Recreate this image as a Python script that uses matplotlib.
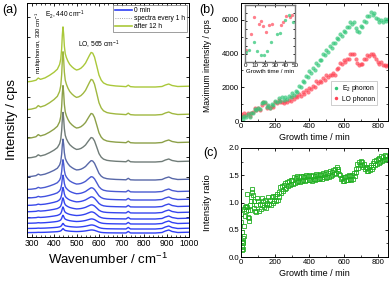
import numpy as np
import matplotlib
matplotlib.use("Agg")
import matplotlib.pyplot as plt
from matplotlib.lines import Line2D
from matplotlib.ticker import MultipleLocator, NullFormatter, FormatStrFormatter

plt.rcParams['font.family'] = ['Liberation Sans', 'DejaVu Sans']
plt.rcParams['mathtext.fontset'] = 'custom'
plt.rcParams['mathtext.rm'] = 'Liberation Sans'
plt.rcParams['mathtext.it'] = 'Liberation Sans:italic'

# ---------------- panel (a) data ----------------
wavenumber = [280, 300, 320, 330, 340, 360, 380, 400, 415, 425, 430, 434, 437, 440, 443, 446, 450,
              455, 462, 470, 480, 490, 500, 510, 520, 530, 540, 550, 558, 565, 572, 580, 590, 600,
              610, 620, 635, 650, 675, 700, 720, 730, 740, 760, 800, 850, 880, 895, 910, 925, 950, 1000]
e2_shape = [.05, .06, .08, .12, .09, .11, .15, .20, .25, .33, .42, .60, .85, 1.0, .85, .62, .45,
            .35, .27, .20, .15, .11, .08, .06, .04, .03, .02, .02, .01, .01, .01, 0, 0, 0,
            0, 0, 0, 0, 0, 0, 0, 0, 0, 0, 0, 0, 0, 0, 0, 0, 0, 0]
lo_shape = [.07, .07, .07, .07, .08, .09, .10, .11, .12, .13, .14, .15, .15, .15, .17, .20, .25,
            .30, .32, .34, .35, .36, .37, .42, .49, .57, .67, .80, .92, 1.0, .98, .88, .62, .35,
            .20, .12, .07, .05, .03, .02, .01, .01, .01, 0, 0, 0, 0, 0, 0, 0, 0, 0]
substrate = [0, 0, 0, 0, 0, 0, 0, 0, 0, 0, 0, 0, 0, 0, 0, 0, 0,
             0, 0, 0, 0, 0, 0, 0, 0, 0, 0, 0, 0, 0, 0, 0, 0, 0,
             0, 0, 0, 0, 0, 0, 0, 1.5, 0, 0, 0, 0, 0.5, 2, 3, 1.5, 0.5, 0.8]
spectrum_offset = [4, 8, 13, 18, 24, 30, 37, 45, 57, 75, 94, 122, 150]
e2_amplitude = [4, 5, 8, 11, 14, 18, 23, 30, 38, 46, 53, 58, 55]
lo_amplitude = [3, 4, 5, 7, 8, 10, 12, 15, 19, 24, 29, 35, 34]
spectrum_colors = ['#3040f5', '#3040f5', '#3141f3', '#3343f0', '#3545ee', '#3848ea', '#4050e0',
                   '#4a5ad0', '#5868a8', '#707c78', '#8ca048', '#a0b840', '#aac83a']

# ---------------- panel (b) data ----------------
time_b = list(range(0, 870, 10))
e2_intensity = [250, 120, 300, 250, 400, 250, 450, 500, 700, 650,
                800, 700, 1050, 1100, 1150, 850, 950, 800, 1000, 950,
                1200, 1150, 1350, 1200, 1400, 1250, 1400, 1300, 1500, 1400,
                1650, 1550, 1800, 1700, 2050, 2000, 2350, 2300, 2650, 2600,
                2950, 2850, 3150, 3050, 3450, 3350, 3600, 3600, 4000, 3900,
                4200, 4100, 4450, 4350, 4650, 4600, 4950, 4850, 5150, 5050,
                5350, 5250, 5600, 5550, 5900, 5750, 5900, 5500, 5350, 5300,
                5650, 5550, 5950, 5900, 6250, 6200, 6450, 6300, 6400, 6100,
                6050, 5900, 6000, 5850, 6050, 5950, 6050]
lo_intensity = [400, 300, 500, 350, 450, 300, 500, 550, 750, 650,
                800, 650, 950, 1100, 1050, 800, 900, 750, 900, 850,
                1100, 1050, 1250, 1100, 1150, 1050, 1200, 1100, 1250, 1200,
                1400, 1300, 1500, 1400, 1600, 1500, 1700, 1600, 1850, 1750,
                1950, 1900, 2100, 2000, 2350, 2250, 2400, 2300, 2550, 2450,
                2700, 2600, 2750, 2700, 2850, 2750, 3100, 3150, 3450, 3400,
                3600, 3500, 3700, 3700, 3950, 3950, 4000, 3700, 3450, 3300,
                3400, 3400, 3650, 3650, 3900, 3850, 4000, 3950, 3850, 3650,
                3500, 3400, 3500, 3300, 3350, 3250, 3350]
inset_time_lo = [1, 6, 9, 14, 16, 18, 21, 24, 27, 36, 38, 41, 45, 47]
inset_lo = [150, 350, 550, 465, 500, 440, 365, 455, 465, 455, 495, 565, 555, 575]
inset_time_e2 = [1, 4, 9, 12, 16, 19, 22, 26, 32, 35, 40, 44, 48]
inset_e2 = [125, 150, 245, 135, 80, 80, 135, 245, 350, 360, 515, 575, 495]

# ---------------- panel (c) data ----------------
ratio_time_early = [0, 2, 3, 5, 6, 8, 9, 10, 12, 13, 15, 17, 19, 21, 24, 27, 30, 33, 36, 39, 42,
                    45, 48, 51, 54, 57, 60, 63, 66, 70, 74, 78, 82, 86, 90]
ratio_early = [0.78, 0.64, 0.45, 0.30, 0.18, 0.12, 0.25, 0.15, 0.35, 0.28, 0.57, 0.38, 0.88, 0.75,
               0.92, 0.85, 0.93, 1.15, 0.92, 0.86, 0.74, 0.66, 0.72, 0.87, 0.95, 1.03, 1.10, 1.20,
               1.25, 1.13, 1.02, 0.90, 0.85, 0.82, 0.96]
ratio_time_late = list(range(95, 860, 5))
ratio_late = [1.08,
              1.02, 0.85, 0.98, 0.88, 1.08, 0.95, 1.02, 0.92, 1.05, 0.90,
              1.00, 0.95, 1.10, 0.98, 1.05, 0.96, 1.10, 1.00, 1.12, 1.02,
              1.12, 1.02, 1.15, 1.05, 1.20, 1.10, 1.28, 1.18, 1.30, 1.22,
              1.32, 1.24, 1.35, 1.26, 1.38, 1.30, 1.40, 1.32, 1.42, 1.34,
              1.42, 1.34, 1.46, 1.36, 1.45, 1.38, 1.48, 1.39, 1.46, 1.38,
              1.48, 1.40, 1.49, 1.41, 1.47, 1.40, 1.50, 1.42, 1.48, 1.41,
              1.50, 1.42, 1.48, 1.40, 1.51, 1.43, 1.49, 1.42, 1.52, 1.44,
              1.50, 1.43, 1.53, 1.45, 1.51, 1.44, 1.55, 1.46, 1.53, 1.45,
              1.56, 1.47, 1.54, 1.46, 1.57, 1.48, 1.56, 1.50, 1.60, 1.52,
              1.62, 1.55, 1.66, 1.58, 1.62, 1.52, 1.50, 1.44, 1.45, 1.40,
              1.46, 1.39, 1.47, 1.41, 1.49, 1.42, 1.50, 1.43, 1.48, 1.42,
              1.51, 1.44, 1.55, 1.48, 1.62, 1.56, 1.70, 1.64, 1.75, 1.68,
              1.76, 1.68, 1.74, 1.66, 1.70, 1.62, 1.66, 1.58, 1.64, 1.57,
              1.66, 1.59, 1.68, 1.62, 1.72, 1.65, 1.76, 1.69, 1.78, 1.71,
              1.80, 1.73, 1.82, 1.75, 1.86, 1.77, 1.84, 1.78, 1.87, 1.79, 1.85, 1.80]

# ---------------- figure ----------------
fig = plt.figure(figsize=(3.9, 2.82), dpi=100)
W, H = 390.0, 282.0

def box(l, r, t, b):
    return [l / W, (H - b) / H, (r - l) / W, (b - t) / H]

def style(ax, size):
    ax.tick_params(which='both', direction='in', top=True, right=True, labelsize=size, pad=1.5)
    ax.tick_params(which='major', length=2.5, width=0.6)
    ax.tick_params(which='minor', length=1.5, width=0.5)
    for s in ax.spines.values():
        s.set_linewidth(0.7)

# (a)
axa = fig.add_axes(box(27, 189, 3, 237))
wn = np.array(wavenumber)
for i in range(len(spectrum_offset)):
    y = (spectrum_offset[i] + np.array(substrate) + e2_amplitude[i] * np.array(e2_shape)
         + lo_amplitude[i] * np.array(lo_shape))
    axa.plot(wn, y, color=spectrum_colors[i], lw=1.0)
axa.set_xlim(280, 1000)
axa.set_ylim(0, 234)
axa.xaxis.set_major_locator(MultipleLocator(100))
axa.xaxis.set_minor_locator(MultipleLocator(20))
axa.yaxis.set_major_locator(MultipleLocator(20))
axa.yaxis.set_major_formatter(NullFormatter())
style(axa, 6.2)
axa.set_xlabel('Wavenumber / cm$^{-1}$', fontsize=9.5, labelpad=3)
axa.set_ylabel('Intensity / cps', fontsize=9.5, labelpad=5)
axa.text(449, 222, 'E$_2$, 440 cm$^{-1}$', fontsize=4.8, ha='center', va='center')
axa.text(600, 192, 'LO, 565 cm$^{-1}$', fontsize=4.8, ha='center', va='center')
axa.text(333, 194, 'multiphonon, 330 cm$^{-1}$', fontsize=4.3, ha='center', va='center', rotation=90)
handles = [Line2D([], [], color='#3040f5', lw=1.2),
           Line2D([], [], color='#8a8a8a', lw=0.6, ls=':'),
           Line2D([], [], color='#aac83a', lw=1.2)]
leg = axa.legend(handles, ['0 min', 'spectra every 1 h', 'after 12 h'], loc='upper right',
                 fontsize=4.8, frameon=True, fancybox=False, handlelength=2.6, handletextpad=0.3,
                 borderpad=0.3, labelspacing=0.15, borderaxespad=0.3)
leg.get_frame().set_edgecolor('#555555')
leg.get_frame().set_linewidth(0.5)

# (b)
axb = fig.add_axes(box(241, 388, 3, 121))
axb.plot(time_b, lo_intensity, ls='none', marker='o', ms=3.0, color='#ff4455', alpha=0.7, mew=0)
axb.plot(time_b, e2_intensity, ls='none', marker='o', ms=3.0, color='#33c77a', alpha=0.7, mew=0)
axb.set_xlim(0, 860)
axb.set_ylim(0, 7000)
axb.xaxis.set_major_locator(MultipleLocator(200))
axb.xaxis.set_minor_locator(MultipleLocator(100))
axb.yaxis.set_major_locator(MultipleLocator(2000))
axb.yaxis.set_minor_locator(MultipleLocator(1000))
style(axb, 5.6)
axb.set_xlabel('Growth time / min', fontsize=6.5, labelpad=2)
axb.set_ylabel('Maximum intensity / cps', fontsize=6.2, labelpad=3)
axb.yaxis.set_label_coords(-0.2, 0.47)
lh = [Line2D([], [], ls='none', marker='o', ms=2.5, color='#33c77a', mew=0),
      Line2D([], [], ls='none', marker='o', ms=2.5, color='#ff4455', mew=0)]
lb = axb.legend(lh, ['E$_2$ phonon', 'LO phonon'], loc='lower right', bbox_to_anchor=(0.95, 0.11),
                fontsize=4.8, frameon=True, fancybox=False, handlelength=1.0, handletextpad=0.4,
                borderpad=0.3, labelspacing=0.2)
lb.get_frame().set_edgecolor('#aaaaaa')
lb.get_frame().set_linewidth(0.5)

# inset
axi = fig.add_axes(box(245, 295, 5, 62))
axi.plot(inset_time_lo, inset_lo, ls='none', marker='o', ms=2.4, color='#ff5566', alpha=0.75, mew=0)
axi.plot(inset_time_e2, inset_e2, ls='none', marker='o', ms=2.4, color='#33c77a', alpha=0.75, mew=0)
axi.set_xlim(0, 50)
axi.set_ylim(0, 700)
axi.xaxis.set_major_locator(MultipleLocator(10))
axi.yaxis.set_major_locator(MultipleLocator(100))
axi.yaxis.set_major_formatter(NullFormatter())
style(axi, 4.5)
axi.tick_params(which='major', length=1.5, pad=1)
for s in axi.spines.values():
    s.set_color('#777777')
    s.set_linewidth(1.0)
axi.set_xlabel('Growth time / min', fontsize=4.4, labelpad=0.5)

# (c)
axc = fig.add_axes(box(241, 388, 148, 257))
axc.plot(ratio_time_early + ratio_time_late, ratio_early + ratio_late, ls='none', marker='s',
         ms=2.8, mfc='none', mec='#22b022', mew=0.6)
axc.set_xlim(0, 860)
axc.set_ylim(0, 2.0)
axc.xaxis.set_major_locator(MultipleLocator(200))
axc.xaxis.set_minor_locator(MultipleLocator(100))
axc.yaxis.set_major_locator(MultipleLocator(0.5))
axc.yaxis.set_minor_locator(MultipleLocator(0.25))
axc.yaxis.set_major_formatter(FormatStrFormatter('%.1f'))
style(axc, 5.6)
axc.set_xlabel('Growth time / min', fontsize=6.5, labelpad=2)
axc.set_ylabel('Intensity ratio', fontsize=6.8, labelpad=5)
axc.yaxis.set_label_coords(-0.2, 0.5)

fig.text(199 / W, 1 - 10 / H, '(b)', fontsize=9, va='center', ha='left')
fig.text(2 / W, 1 - 10 / H, '(a)', fontsize=9, va='center', ha='left')
fig.text(203 / W, 1 - 153 / H, '(c)', fontsize=9, va='center', ha='left')

fig.savefig('out.png', dpi=100)
